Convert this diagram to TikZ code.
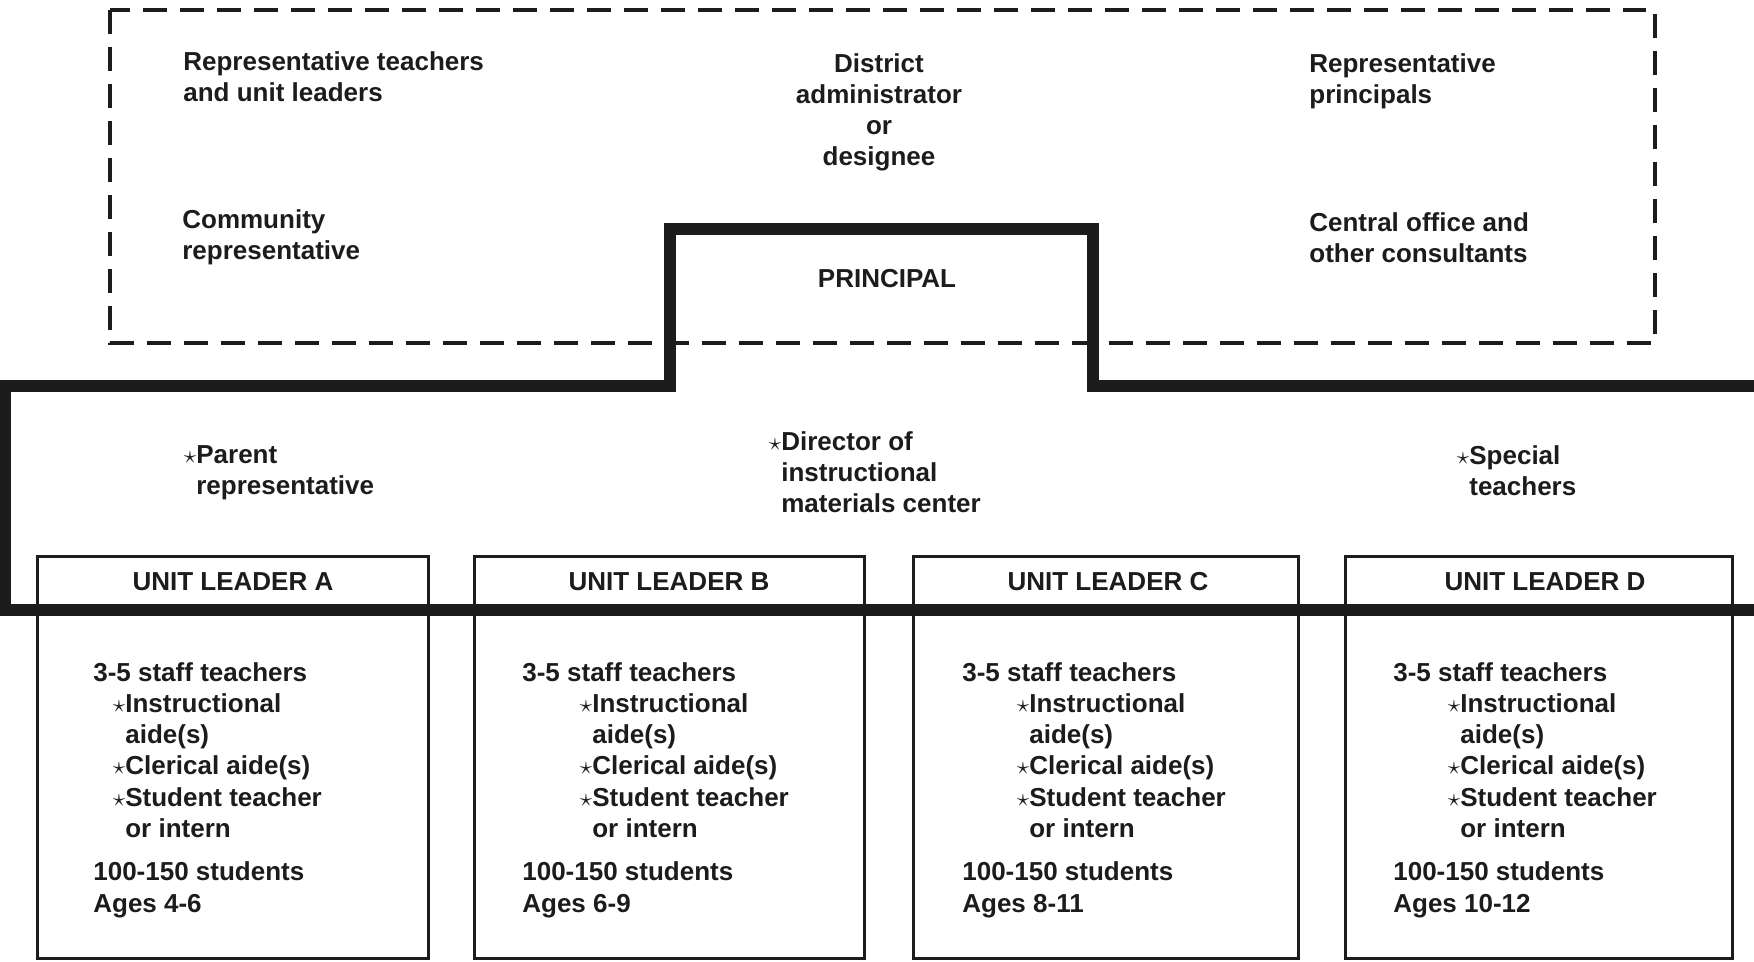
\documentclass[tikz,border=0pt]{standalone}
\usepackage{fontspec}
\setmainfont{Liberation Sans}
\usepackage{tikz}
\usetikzlibrary{positioning}
\definecolor{Ink}{HTML}{1C1C1C}
\newcommand{\hstar}{\llap{$\star$}}
\newcommand{\staffcol}[2]{3-5 staff teachers\\
  \hspace*{#1}\hstar Instructional\\
  \hspace*{#1}aide(s)\\
  \hspace*{#1}\hstar Clerical aide(s)\\
  \hspace*{#1}\hstar Student teacher\\
  \hspace*{#1}or intern\\[0.24cm]
  100-150 students\\
  Ages #2}
\tikzset{
  lbl/.style={inner sep=0pt,text=Ink,font=\bfseries\fontsize{14.8}{17.8}\selectfont,align=left},
  council/.style={draw=Ink,line width=0.07cm,dash pattern=on 0.48cm off 0.26cm},
  staffline/.style={draw=Ink,line width=0.24cm},
  unitbox/.style={draw=Ink,line width=0.06cm},
}
\begin{document}
\begin{tikzpicture}[x=0.02cm,y=-0.02cm]
    \useasboundingbox (0,0) rectangle (1754,962);
    \clip (0,0) rectangle (1754,962);

    % advisory council (nodes placed by the baseline of their last line)
    \draw[council] (110,10) rectangle (1655,343);
    \node[lbl,anchor=base west] (repteach) at (183,102) {Representative teachers\\and unit leaders};
    \node[lbl,anchor=base,align=center] (district) at (879,166) {District\\administrator\\or\\designee};
    \node[lbl,anchor=base west] (repprinc) at (1309,104) {Representative\\principals};
    \node[lbl,anchor=base west] (community) at (182,260) {Community\\representative};
    \node[lbl,anchor=base west] (central) at (1309,263) {Central office and\\other consultants};

    % unit boxes
    \draw[unitbox] (37,556) rectangle (428,958);
    \draw[unitbox] (474,556) rectangle (864,958);
    \draw[unitbox] (913,556) rectangle (1298,958);
    \draw[unitbox] (1345,556) rectangle (1732,958);

    % instructional improvement committee
    \draw[staffline] (1770,610) -- (5,610) -- (5,386) -- (670,386) -- (670,229)
        -- (1093,229) -- (1093,386) -- (1770,386);
    \node[lbl,anchor=base] (principal) at (887,288) {PRINCIPAL};
    \node[lbl,anchor=base west] (parent) at (196,495) {\hstar Parent\\representative};
    \node[lbl,anchor=base west] (director) at (781,513) {\hstar Director of\\instructional\\materials center};
    \node[lbl,anchor=base west] (special) at (1469,496) {\hstar Special\\teachers};

    \node[lbl,anchor=base] (leaderA) at (233,590) {UNIT LEADER A};
    \node[lbl,anchor=base] (leaderB) at (669,590) {UNIT LEADER B};
    \node[lbl,anchor=base] (leaderC) at (1108,590) {UNIT LEADER C};
    \node[lbl,anchor=base] (leaderD) at (1545,590) {UNIT LEADER D};

    \node[lbl,anchor=base west] (staffA) at (93,912) {\staffcol{0.64cm}{4-6}};
    \node[lbl,anchor=base west] (staffB) at (522,912) {\staffcol{1.40cm}{6-9}};
    \node[lbl,anchor=base west] (staffC) at (962,912) {\staffcol{1.34cm}{8-11}};
    \node[lbl,anchor=base west] (staffD) at (1393,912) {\staffcol{1.34cm}{10-12}};
\end{tikzpicture}
\end{document}
